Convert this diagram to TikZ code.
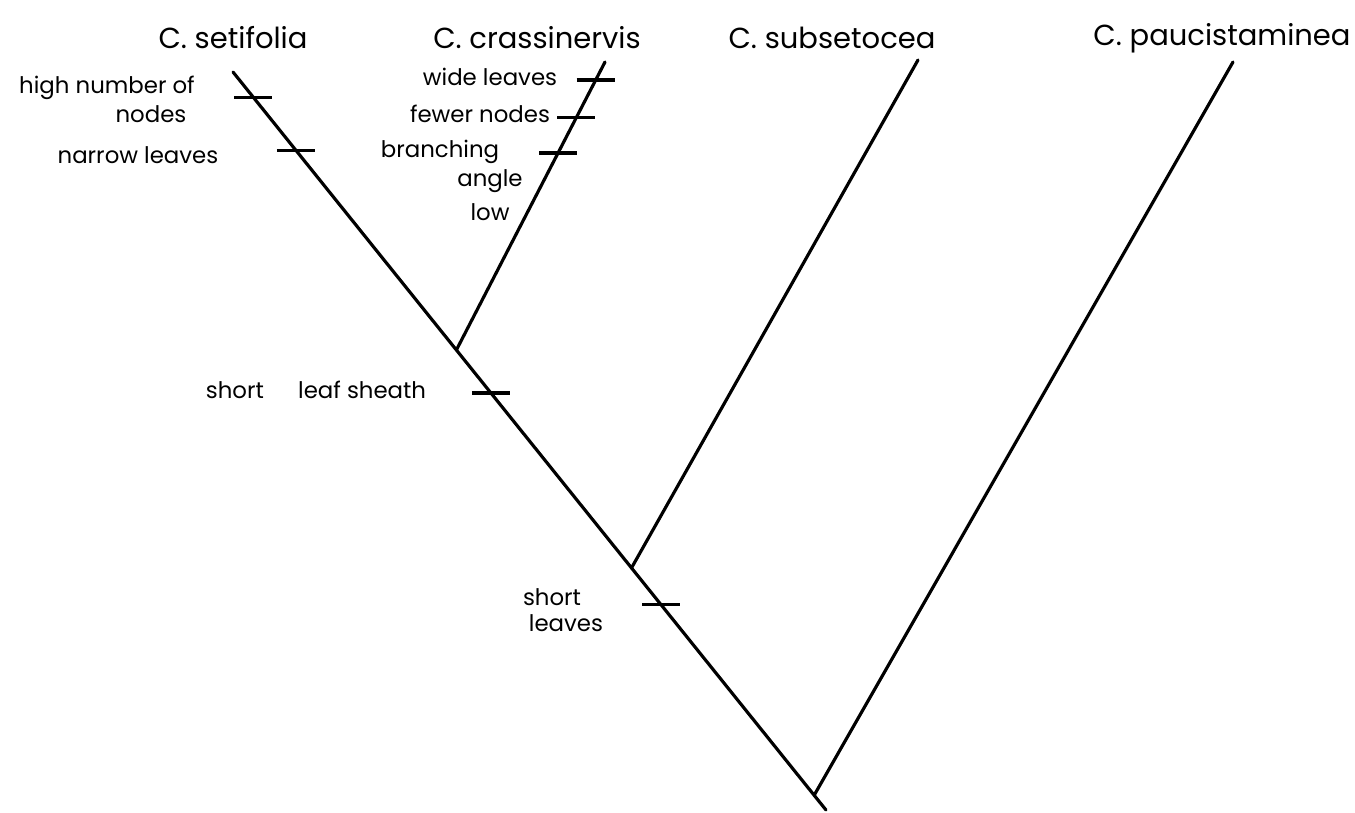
\documentclass[tikz,border=0pt]{standalone}
\usepackage{fontspec}
\setmainfont{Poppins}
\usetikzlibrary{positioning,calc}

\begin{document}
\begin{tikzpicture}[x=0.02cm,y=-0.02cm,
    branch/.style={line width=1.8pt,line cap=round},
    tick/.style={line width=1.8pt},
    taxon/.style={font=\fontsize{16.5}{20}\selectfont,inner sep=0pt},
    trait/.style={font=\fontsize{13}{15}\selectfont,inner sep=0pt,align=center}]
  \useasboundingbox (0,0) rectangle (1355,812);

  \node[taxon] (setifolia) at (233,38) {C. setifolia};
  \node[taxon] (crassinervis) at (537,38) {C. crassinervis};
  \node[taxon] (subsetocea) at (832,38) {C. subsetocea};
  \node[taxon] (paucistaminea) at (1222,38) {C. paucistaminea};

  \coordinate (setTip) at (233,72);
  \coordinate (crasTip) at (605,62);
  \coordinate (subTip) at (918,60);
  \coordinate (pauTip) at (1233,62);
  \coordinate (rootEnd) at (826,810);

  \coordinate (jOne) at ($(setTip)!0.3767!(rootEnd)$);
  \coordinate (jTwo) at ($(setTip)!0.672!(rootEnd)$);
  \coordinate (jThree) at ($(setTip)!0.98!(rootEnd)$);

  \draw[branch] (setTip) -- (rootEnd);
  \draw[branch] (crasTip) -- (jOne);
  \draw[branch] (subTip) -- (jTwo);
  \draw[branch] (pauTip) -- (jThree);

  \coordinate (tNodes) at ($(setTip)!0.034!(rootEnd)$);
  \coordinate (tNarrow) at ($(setTip)!0.106!(rootEnd)$);
  \coordinate (tSheath) at ($(setTip)!0.435!(rootEnd)$);
  \coordinate (tShort) at ($(setTip)!0.722!(rootEnd)$);
  \coordinate (tWide) at ($(crasTip)!0.0625!(jOne)$);
  \coordinate (tFewer) at ($(crasTip)!0.194!(jOne)$);
  \coordinate (tAngle) at ($(crasTip)!0.316!(jOne)$);

  \foreach \t in {tNodes,tNarrow,tSheath,tShort,tWide,tFewer,tAngle}
    \draw[tick] ($(\t)+(-19,0)$) -- ($(\t)+(19,0)$);

  \node[trait] (highNum) at (107,88) {high number of};
  \node[trait] (highNodes) at (151,114) {nodes};
  \node[trait] (narrow) at (138,155) {narrow leaves};
  \node[trait] (wide) at (490,77) {wide leaves};
  \node[trait] (fewer) at (480,114) {fewer nodes};
  \node[trait] (branching) at (440,152) {branching};
  \node[trait] (angle) at (490,181) {angle};
  \node[trait] (low) at (490,212) {low};
  \node[trait] (sheath) at (316,390) {short\quad\enspace leaf sheath};
  \node[trait] (shortL) at (552,597) {short};
  \node[trait] (leavesL) at (566,623) {leaves};
\end{tikzpicture}
\end{document}
